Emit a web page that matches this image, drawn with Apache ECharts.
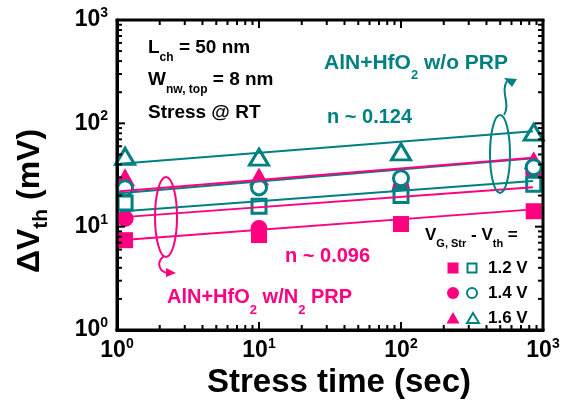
<!DOCTYPE html>
<html><head><meta charset="utf-8">
<script src="https://cdn.jsdelivr.net/npm/echarts@6/dist/echarts.min.js"></script>
<style>html,body{margin:0;padding:0;background:#fff}#c{width:566px;height:409px}</style>
</head><body><div id="c"></div><script>
// ---- data ----
const stressTime = [1.14, 10, 100, 860];
// AlN+HfO2 w/N2 PRP (filled, pink)
const n2_12V = [7.4, 8.3, 10.6, 14.1];
const n2_14V = [12.0, 9.6, 24, 33];
const n2_16V = [30, 30.5, 27, 44];
// AlN+HfO2 w/o PRP (open, teal)
const wo_12V = [16.9, 15.8, 20, 25.7];
const wo_14V = [23.5, 24, 29.4, 37.6];
const wo_16V = [48, 47, 53, 82];
// power-law fit lines (end points)
const fitTime = [1.05, 850];
const fit_n2_12V = [7.4, 14.7];
const fit_n2_14V = [12.3, 24.1];
const fit_n2_16V = [22.0, 46.5];
const fit_wo_12V = [14.0, 27.6];
const fit_wo_14V = [21.0, 46.0];
const fit_wo_16V = [40.6, 84];
const majorTickValues = [10, 100];
const minorTickValues = [2,3,4,5,6,7,8,9,20,30,40,50,60,70,80,90,200,300,400,500,600,700,800,900];

const PINK = '#FF0080', TEAL = '#008080';
const FONT = '"Liberation Sans", Arial, sans-serif';

const chart = echarts.init(document.getElementById('c'), null, {renderer: 'canvas'});

function pts(xs, ys) { return xs.map((x, i) => [x, ys[i]]); }
function scat(vals, symbol, size, filled, z) {
  return {
    type: 'scatter', data: pts(stressTime, vals), symbol: symbol, symbolSize: size, z: z,
    itemStyle: filled ? {color: PINK, opacity: 1} : {color: '#fff', borderColor: TEAL, borderWidth: 3, opacity: 1},
    emphasis: {disabled: true}, silent: true
  };
}
function fit(vals, color) {
  return {type: 'line', data: pts(fitTime, vals), symbol: 'none', z: 20, silent: true,
    lineStyle: {color: color, width: 2}};
}
function ticks(values, len) {
  return {
    type: 'custom', coordinateSystem: 'cartesian2d', clip: false, silent: true, z: 30,
    data: values.map(v => [v, v]),
    renderItem: function (params, api) {
      const v = api.value(0);
      const cs = params.coordSys;
      const px = api.coord([v, 1])[0];
      const py = api.coord([1, v])[1];
      const st = {stroke: '#000', lineWidth: 2};
      return {type: 'group', children: [
        {type: 'line', shape: {x1: px, y1: cs.y + cs.height, x2: px, y2: cs.y + cs.height - len}, style: st},
        {type: 'line', shape: {x1: px, y1: cs.y, x2: px, y2: cs.y + len}, style: st},
        {type: 'line', shape: {x1: cs.x, y1: py, x2: cs.x + len, y2: py}, style: st},
        {type: 'line', shape: {x1: cs.x + cs.width, y1: py, x2: cs.x + cs.width - len, y2: py}, style: st}
      ]};
    }
  };
}
// frame around the plotting area, drawn from the coordinate system box
const frameSeries = {
  type: 'custom', coordinateSystem: 'cartesian2d', clip: false, silent: true, z: 40,
  data: [[10, 10]],
  renderItem: function (params, api) {
    const cs = params.coordSys;
    const st = {stroke: '#000', lineWidth: 3, fill: null};
    const x0 = cs.x, y0 = cs.y, x1 = cs.x + cs.width, y1 = cs.y + cs.height;
    return {type: 'group', children: [
      {type: 'line', shape: {x1: x0 - 1.5, y1: y0, x2: x1 + 1.5, y2: y0}, style: st},
      {type: 'line', shape: {x1: x0 - 1.5, y1: y1, x2: x1 + 1.5, y2: y1}, style: st},
      {type: 'line', shape: {x1: x0, y1: y0, x2: x0, y2: y1}, style: st},
      {type: 'line', shape: {x1: x1, y1: y0, x2: x1, y2: y1}, style: st}
    ]};
  }
};
const labelRich = {
  b: {fontSize: 23, fontWeight: 'bold', fontFamily: FONT, color: '#000'},
  s: {fontSize: 14, fontWeight: 'bold', fontFamily: FONT, color: '#000', padding: [0, 0, 14, 0]}
};
function fmt(v) { const e = Math.round(Math.log10(v)); return '{b|10}{s|' + e + '}'; }
const axisCommon = {
  type: 'log', logBase: 10, min: 1, max: 1000,
  axisLine: {show: true, onZero: false, lineStyle: {color: '#000', width: 3}},
  axisTick: {show: false},
  splitLine: {show: false}, minorTick: {show: false}
};

function txt(x, y, text, rich, align) {
  return {type: 'text', x: x, y: y, z: 100, silent: true,
    style: {text: text, verticalAlign: 'middle', align: align || 'left', rich: rich}};
}
function richSet(size, sub, shift, color) {
  return {
    b: {fontSize: size, fontWeight: 'bold', fontFamily: FONT, fill: color},
    s: {fontSize: sub, fontWeight: 'bold', fontFamily: FONT, fill: color, padding: [shift, 0, 0, 0]}
  };
}

const option = {
  animation: false,
  backgroundColor: '#fff',
  grid: {left: 117, top: 20, right: 23, bottom: 79, containLabel: false},
  xAxis: [
    Object.assign({}, axisCommon, {position: 'bottom',
      axisLabel: {show: true, margin: 7, formatter: fmt, rich: labelRich}})
  ],
  yAxis: [
    Object.assign({}, axisCommon, {position: 'left',
      axisLabel: {show: true, margin: 9, formatter: fmt, rich: labelRich}})
  ],
  series: [
    scat(n2_12V, 'rect', 16, true, 2),
    scat(n2_14V, 'circle', 17, true, 3),
    scat(n2_16V, 'triangle', [20, 18], true, 4),
    scat(wo_12V, 'rect', 14, false, 5),
    scat(wo_14V, 'circle', 15, false, 6),
    scat(wo_16V, 'triangle', [19, 16], false, 7),
    fit(fit_n2_12V, PINK), fit(fit_n2_14V, PINK), fit(fit_wo_12V, TEAL),
    fit(fit_wo_14V, TEAL), fit(fit_n2_16V, PINK), fit(fit_wo_16V, TEAL),
    ticks(majorTickValues, 8),
    ticks(minorTickValues, 5),
    frameSeries
  ],
  graphic: [
    // axis titles
    txt(339, 383, '{b|Stress time (sec)}', richSet(33, 20, 0, '#000'), 'center'),
    {type: 'text', x: 30, y: 201, rotation: Math.PI / 2, z: 100, silent: true,
      style: {text: '{b|ΔV}{s|th}{b| (mV)}', align: 'center', verticalAlign: 'middle', rich: richSet(32, 21, 22, '#000')}},
    // condition text
    txt(148, 48, '{b|L}{s|ch}{b| = 50 nm}', richSet(19, 12, 20, '#000')),
    txt(148, 80, '{b|W}{s|nw, top}{b| = 8 nm}', richSet(19, 12, 20, '#000')),
    txt(148, 113, '{b|Stress @ RT}', richSet(19, 12, 20, '#000')),
    txt(324, 63, '{b|AlN+HfO}{s|2}{b| w/o PRP}', richSet(21, 13, 24, TEAL)),
    txt(327, 117, '{b|n ~ 0.124}', richSet(20, 13, 0, TEAL)),
    txt(285, 256, '{b|n ~ 0.096}', richSet(20, 13, 0, PINK)),
    txt(167, 297, '{b|AlN+HfO}{s|2}{b| w/N}{s|2}{b| PRP}', richSet(20, 13, 26, PINK)),
    // legend
    txt(425, 235, '{b|V}{s|G, Str}{b| - V}{s|th}{b| =}', richSet(17, 11, 18, '#000')),
    {type: 'rect', z: 100, shape: {x: 447.5, y: 262.5, width: 11, height: 11}, style: {fill: PINK}},
    {type: 'rect', z: 100, shape: {x: 467.5, y: 263.5, width: 9, height: 9}, style: {fill: '#fff', stroke: TEAL, lineWidth: 2}},
    txt(488, 268, '{b|1.2 V}', richSet(17, 11, 0, '#000')),
    {type: 'circle', z: 100, shape: {cx: 453, cy: 293, r: 6}, style: {fill: PINK}},
    {type: 'circle', z: 100, shape: {cx: 472, cy: 293, r: 5}, style: {fill: '#fff', stroke: TEAL, lineWidth: 2}},
    txt(488, 293, '{b|1.4 V}', richSet(17, 11, 0, '#000')),
    {type: 'polygon', z: 100, shape: {points: [[453, 312], [459.5, 323.5], [446.5, 323.5]]}, style: {fill: PINK}},
    {type: 'polygon', z: 100, shape: {points: [[473, 313], [479, 323], [467, 323]]}, style: {fill: '#fff', stroke: TEAL, lineWidth: 2}},
    txt(488, 318, '{b|1.6 V}', richSet(17, 11, 0, '#000')),
    // ellipses + pointers
    {type: 'ellipse', z: 90, shape: {cx: 166, cy: 217, rx: 11, ry: 40}, style: {fill: 'none', stroke: PINK, lineWidth: 2}},
    {type: 'bezierCurve', z: 90, shape: {x1: 164, y1: 256, cpx1: 155, cpy1: 263, cpx2: 160, cpy2: 272, x2: 168, y2: 273}, style: {fill: 'none', stroke: PINK, lineWidth: 2}},
    {type: 'polygon', z: 90, shape: {points: [[166, 268], [176, 273], [166, 277]]}, style: {fill: PINK}},
    {type: 'ellipse', z: 90, shape: {cx: 500, cy: 154, rx: 10, ry: 39}, style: {fill: 'none', stroke: TEAL, lineWidth: 2}},
    {type: 'bezierCurve', z: 90, shape: {x1: 504, y1: 115, cpx1: 511, cpy1: 104, cpx2: 500, cpy2: 92, x2: 507, y2: 81}, style: {fill: 'none', stroke: TEAL, lineWidth: 2}},
    {type: 'polygon', z: 90, shape: {points: [[504, 78], [517, 79], [512, 87]]}, style: {fill: TEAL}}
  ]
};
chart.setOption(option);
</script></body></html>
